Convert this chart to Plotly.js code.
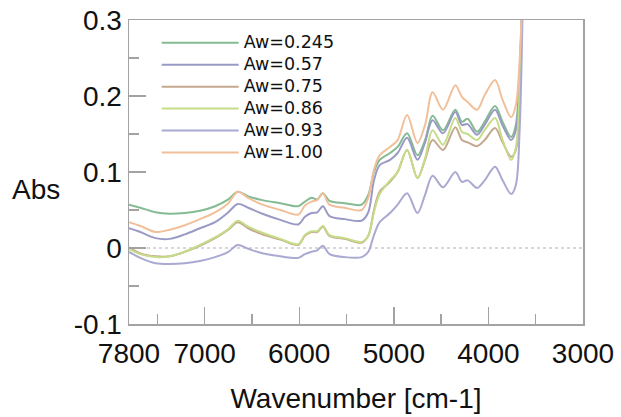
<!DOCTYPE html>
<html>
<head>
<meta charset="utf-8">
<script src="https://cdn.plot.ly/plotly-3.0.1.min.js"></script>
<style>html,body{margin:0;padding:0;background:#fff;}#chart{width:621px;height:417px;}</style>
</head>
<body>
<div id="chart"></div>
<script>
// Wavenumber (cm-1)
const wavenumber = [7800, 7680, 7520, 7370, 7210, 7050, 6890, 6750, 6650, 6540, 6390, 6200, 6010, 5940, 5870, 5810, 5750, 5680, 5520, 5340, 5270, 5210, 5150, 5040, 4960, 4860, 4750, 4670, 4590, 4480, 4350, 4280, 4220, 4120, 4040, 3930, 3850, 3760, 3710, 3670, 3630];

const aw0245 = [0.057,0.053,0.047,0.045,0.046,0.049,0.055,0.064,0.074,0.068,0.063,0.059,0.055,0.061,0.066,0.064,0.072,0.062,0.059,0.057,0.070,0.100,0.116,0.125,0.133,0.151,0.122,0.142,0.174,0.155,0.182,0.166,0.170,0.153,0.166,0.187,0.166,0.146,0.162,0.234,0.379];
const aw057 = [0.026,0.021,0.013,0.012,0.018,0.026,0.034,0.047,0.058,0.053,0.045,0.037,0.031,0.041,0.046,0.047,0.055,0.042,0.038,0.036,0.047,0.089,0.109,0.116,0.125,0.145,0.116,0.139,0.168,0.151,0.179,0.162,0.163,0.149,0.162,0.182,0.161,0.142,0.155,0.228,0.379];
const aw075 = [0.001,-0.007,-0.011,-0.011,-0.005,0.003,0.013,0.024,0.034,0.026,0.018,0.011,0.004,0.016,0.021,0.021,0.028,0.016,0.012,0.007,0.016,0.050,0.074,0.087,0.100,0.129,0.092,0.116,0.142,0.129,0.159,0.142,0.139,0.134,0.142,0.158,0.139,0.120,0.129,0.208,0.379];
const aw086 = [-0.001,-0.008,-0.012,-0.011,-0.005,0.004,0.014,0.025,0.036,0.028,0.020,0.012,0.005,0.017,0.022,0.022,0.029,0.017,0.013,0.008,0.016,0.047,0.071,0.089,0.100,0.129,0.092,0.118,0.155,0.136,0.171,0.153,0.150,0.142,0.155,0.171,0.142,0.116,0.132,0.208,0.379];
const aw093 = [-0.005,-0.013,-0.020,-0.021,-0.020,-0.017,-0.012,-0.005,0.004,-0.001,-0.007,-0.011,-0.013,-0.008,-0.005,-0.003,0.003,-0.008,-0.012,-0.012,-0.005,0.017,0.034,0.046,0.057,0.072,0.046,0.070,0.095,0.080,0.100,0.087,0.089,0.079,0.089,0.107,0.089,0.071,0.083,0.155,0.379];
const aw100 = [0.034,0.029,0.021,0.024,0.030,0.038,0.047,0.059,0.074,0.066,0.057,0.050,0.044,0.056,0.061,0.063,0.072,0.057,0.053,0.050,0.066,0.103,0.122,0.133,0.142,0.175,0.138,0.162,0.205,0.182,0.214,0.199,0.192,0.182,0.201,0.221,0.195,0.172,0.188,0.247,0.379];

const seriesNames = ["Aw=0.245", "Aw=0.57", "Aw=0.75", "Aw=0.86", "Aw=0.93", "Aw=1.00"];
const seriesValues = [aw0245, aw057, aw075, aw086, aw093, aw100];
const seriesColors = ["#84bb92", "#9a9ac6", "#c4a88f", "#c6dc88", "#a9a9d2", "#f1c09a"];

const xTickVals = [7800, 7000, 6000, 5000, 4000, 3000];
const xTickText = ["7800", "7000", "6000", "5000", "4000", "3000"];
const xMinorVals = [7500, 6500, 5500, 4500, 3500];
const yTickVals = [-0.1, 0, 0.1, 0.2, 0.3];
const yTickText = ["-0.1", "0", "0.1", "0.2", "0.3"];
const yMinorVals = [-0.05, 0.05, 0.15, 0.25];

const traces = seriesNames.map((n, i) => ({
  x: wavenumber, y: seriesValues[i],
  name: '<span style="font-size:17.5px">' + n + '</span>',
  type: "scatter", mode: "lines",
  line: {color: seriesColors[i], width: 2, shape: "spline", smoothing: 0.9}
}));

const axisColor = "#a3a3a3";
const tickFont = {family: "Liberation Sans, Arial, sans-serif", size: 28, color: "#111"};

const layout = {
  width: 621, height: 417,
  margin: {l: 129, r: 38, t: 20, b: 93},
  paper_bgcolor: "#fff", plot_bgcolor: "#fff",
  showlegend: true,
  legend: {
    x: 0.061, y: 0.978, xanchor: "left", yanchor: "top",
    bgcolor: "rgba(0,0,0,0)", borderwidth: 0,
    font: {family: "DejaVu Sans, sans-serif", size: 14.6, color: "#111"},
    itemwidth: 77, tracegroupgap: 0
  },
  xaxis: {
    range: [7800, 3000], showgrid: false, zeroline: false,
    showline: true, linecolor: axisColor, linewidth: 1.5, mirror: true,
    ticks: "inside", ticklen: 17, tickwidth: 1.5, tickcolor: axisColor,
    tickmode: "array", tickvals: xTickVals, ticktext: xTickText,
    minor: {tickmode: "array", tickvals: xMinorVals, ticks: "inside", ticklen: 10, tickwidth: 1.5, tickcolor: axisColor},
    tickfont: tickFont, ticklabelstandoff: 4,
    title: {text: "Wavenumber [cm-1]", font: tickFont, standoff: 20}
  },
  yaxis: {
    range: [-0.1, 0.3], showgrid: false, zeroline: false,
    showline: true, linecolor: axisColor, linewidth: 1.5, mirror: true,
    ticks: "inside", ticklen: 17, tickwidth: 1.5, tickcolor: axisColor,
    tickmode: "array", tickvals: yTickVals, ticktext: yTickText,
    minor: {tickmode: "array", tickvals: yMinorVals, ticks: "inside", ticklen: 10, tickwidth: 1.5, tickcolor: axisColor},
    tickfont: tickFont
  },
  shapes: [{
    type: "line", xref: "paper", x0: 0, x1: 1, yref: "y", y0: 0, y1: 0,
    line: {color: "#cccccc", width: 1.5, dash: "dot"}, layer: "below"
  }],
  annotations: [{
    text: "Abs", xref: "paper", yref: "paper", x: -0.205, y: 0.441,
    xanchor: "center", yanchor: "middle", showarrow: false, font: tickFont
  }]
};

Plotly.newPlot("chart", traces, layout, {displayModeBar: false, staticPlot: true});
</script>
</body>
</html>
